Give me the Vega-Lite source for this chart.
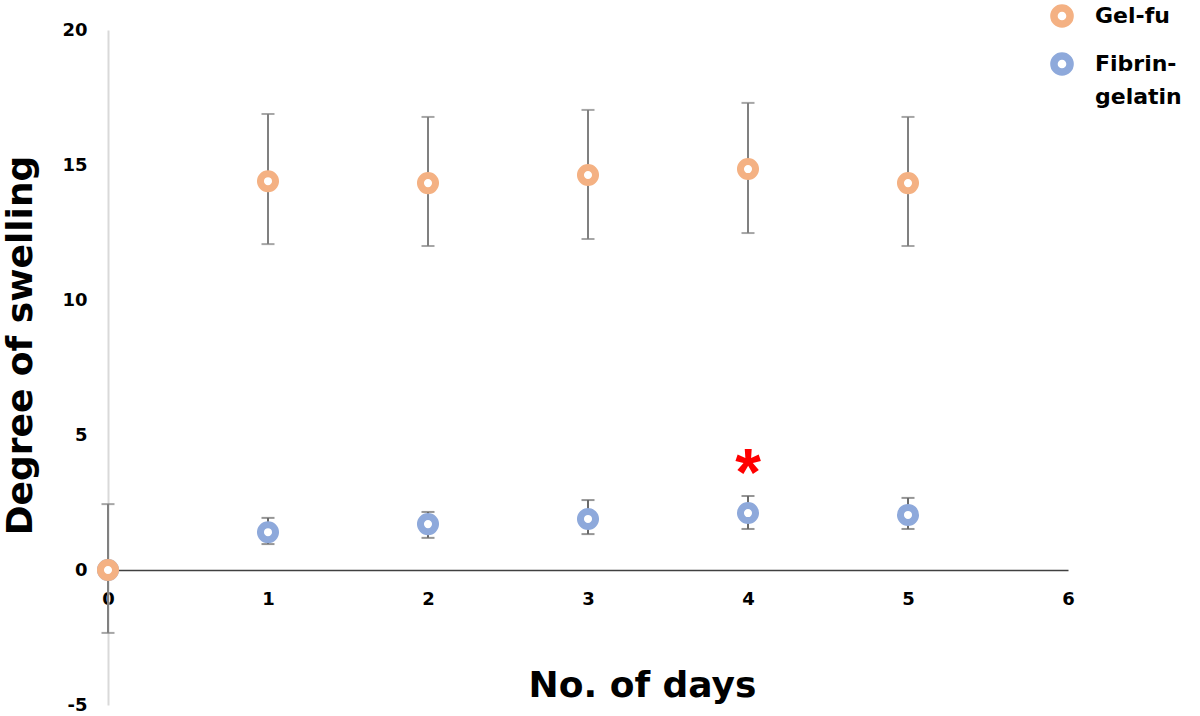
{
  "$schema": "https://vega.github.io/schema/vega-lite/v6.json",
  "width": 960,
  "height": 675,
  "autosize": {"type": "none"},
  "padding": {"left": 108, "top": 30, "right": 132, "bottom": 11},
  "background": "white",
  "config": {
    "view": {"stroke": null},
    "font": "DejaVu Sans",
    "style": {"guide-label": {"lineHeight": 33}},
    "axis": {"grid": false, "ticks": false, "labelFlush": false, "labelFont": "DejaVu Sans", "labelFontWeight": "bold", "labelFontSize": 18, "labelColor": "black", "titleFont": "DejaVu Sans", "titleFontWeight": "bold", "titleColor": "black"}
  },
  "datasets": {
    "pts": [
      {"day": 0, "series": "Fibrin-gelatin", "mean": 0, "lo": null, "hi": null},
      {"day": 1, "series": "Fibrin-gelatin", "mean": 1.4, "lo": 0.96, "hi": 1.93},
      {"day": 2, "series": "Fibrin-gelatin", "mean": 1.7, "lo": 1.19, "hi": 2.15},
      {"day": 3, "series": "Fibrin-gelatin", "mean": 1.89, "lo": 1.33, "hi": 2.59},
      {"day": 4, "series": "Fibrin-gelatin", "mean": 2.11, "lo": 1.52, "hi": 2.74},
      {"day": 5, "series": "Fibrin-gelatin", "mean": 2.04, "lo": 1.52, "hi": 2.67},
      {"day": 0, "series": "Gel-fu", "mean": 0, "lo": -2.33, "hi": 2.44},
      {"day": 1, "series": "Gel-fu", "mean": 14.4, "lo": 12.07, "hi": 16.89},
      {"day": 2, "series": "Gel-fu", "mean": 14.33, "lo": 12.0, "hi": 16.78},
      {"day": 3, "series": "Gel-fu", "mean": 14.63, "lo": 12.26, "hi": 17.04},
      {"day": 4, "series": "Gel-fu", "mean": 14.85, "lo": 12.48, "hi": 17.3},
      {"day": 5, "series": "Gel-fu", "mean": 14.33, "lo": 12.0, "hi": 16.78}
    ],
    "marks": [
      {"day": 4, "value": 2.78, "label": "*"}
    ]
  },
  "layer": [
    {
      "data": {"name": "pts"},
      "transform": [{"filter": "isValid(datum.lo)"}],
      "mark": {"type": "rule", "strokeWidth": 2},
      "encoding": {
        "x": {"field": "day", "type": "quantitative", "scale": {"domain": [0, 6], "nice": false},
          "axis": {"values": [0, 1, 2, 3, 4, 5, 6], "format": "d", "offset": -135, "domainColor": "#404040", "domainWidth": 1.5, "labelPadding": 20, "title": "No. of days", "titleFontSize": 36, "titleX": 534, "titleY": 126, "titleBaseline": "alphabetic", "titleAlign": "center", "titleAnchor": null}},
        "y": {"field": "lo", "type": "quantitative", "scale": {"domain": [-5, 20], "nice": false},
          "axis": {"values": [-5, 0, 5, 10, 15, 20], "labelExpr": "'' + datum.value", "domainColor": "#d9d9d9", "domainWidth": 2, "labelPadding": 21, "title": "Degree of swelling", "titleFontSize": 36, "titleX": -77, "titleY": 315, "titleAngle": -90, "titleBaseline": "alphabetic", "titleAlign": "center", "titleAnchor": null}},
        "y2": {"field": "hi"},
        "color": {"condition": {"test": "datum.series == 'Fibrin-gelatin'", "value": "#6a6a6a"}, "value": "#808080"}
      }
    },
    {
      "data": {"name": "pts"},
      "transform": [{"filter": "isValid(datum.lo)"}],
      "mark": {"type": "tick", "orient": "horizontal", "size": 13, "thickness": 2},
      "encoding": {
        "x": {"field": "day", "type": "quantitative"},
        "y": {"field": "lo", "type": "quantitative"},
        "color": {"condition": {"test": "datum.series == 'Fibrin-gelatin'", "value": "#6a6a6a"}, "value": "#808080"}
      }
    },
    {
      "data": {"name": "pts"},
      "transform": [{"filter": "isValid(datum.lo)"}],
      "mark": {"type": "tick", "orient": "horizontal", "size": 13, "thickness": 2},
      "encoding": {
        "x": {"field": "day", "type": "quantitative"},
        "y": {"field": "hi", "type": "quantitative"},
        "color": {"condition": {"test": "datum.series == 'Fibrin-gelatin'", "value": "#6a6a6a"}, "value": "#808080"}
      }
    },
    {
      "data": {"name": "pts"},
      "mark": {"type": "point", "shape": "circle", "fill": "white", "filled": false, "size": 227, "strokeWidth": 7, "opacity": 1},
      "encoding": {
        "x": {"field": "day", "type": "quantitative"},
        "y": {"field": "mean", "type": "quantitative"},
        "stroke": {"field": "series", "type": "nominal",
          "scale": {"domain": ["Gel-fu", "Fibrin-gelatin"], "range": ["#F4B183", "#8EA9DB"]},
          "legend": {"title": null, "orient": "none", "legendX": 942, "legendY": -26, "symbolType": "circle", "symbolSize": 260, "symbolStrokeWidth": 7.5, "symbolFillColor": "white", "labelFont": "DejaVu Sans", "labelFontWeight": "bold", "labelFontSize": 22, "labelColor": "black", "labelOffset": 21, "rowPadding": 0, "labelLimit": 200,
            "labelExpr": "datum.label == 'Fibrin-gelatin' ? ['Fibrin-', 'gelatin'] : datum.label"}
        }
      }
    },
    {
      "data": {"name": "marks"},
      "mark": {"type": "text", "color": "#ff0000", "font": "Liberation Sans", "fontSize": 66, "fontWeight": "bold", "baseline": "alphabetic", "align": "center"},
      "encoding": {
        "x": {"field": "day", "type": "quantitative"},
        "y": {"field": "value", "type": "quantitative"},
        "text": {"field": "label"}
      }
    }
  ]
}
